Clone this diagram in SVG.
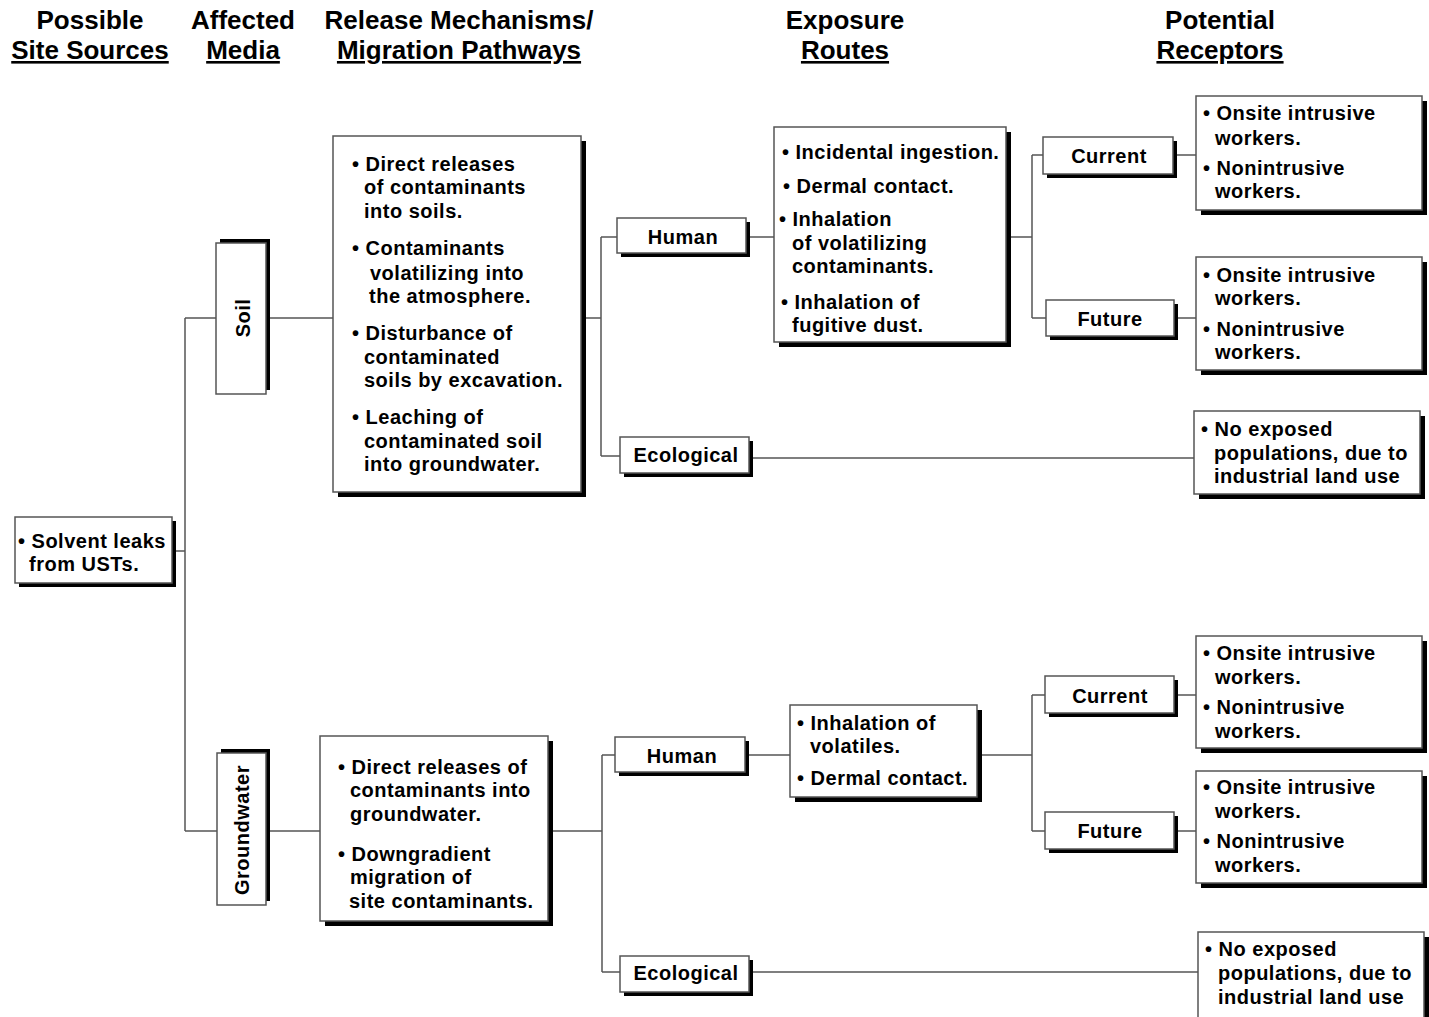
<svg xmlns="http://www.w3.org/2000/svg" width="1429" height="1017" viewBox="0 0 1429 1017">
<style>
.hd{font-family:"Liberation Sans",Arial,sans-serif;font-weight:bold;font-size:26px;text-anchor:middle;fill:#000}
.u{text-decoration:underline}
.t{font-family:"Liberation Sans",Arial,sans-serif;font-weight:bold;font-size:20px;letter-spacing:0.5px;fill:#000}
.c{text-anchor:middle}
.box{fill:#fff;stroke:#555;stroke-width:1.5}
.sh{fill:#000}
.ln{stroke:#555;stroke-width:1.5;fill:none}
</style>
<rect width="1429" height="1017" fill="#fff"/>
<g id="headers">
<text class="hd" x="90" y="29">Possible</text>
<text class="hd u" x="90" y="59">Site Sources</text>
<text class="hd" x="243" y="29">Affected</text>
<text class="hd u" x="243" y="59">Media</text>
<text class="hd" x="459" y="29">Release Mechanisms/</text>
<text class="hd u" x="459" y="59">Migration Pathways</text>
<text class="hd" x="845" y="29">Exposure</text>
<text class="hd u" x="845" y="59">Routes</text>
<text class="hd" x="1220" y="29">Potential</text>
<text class="hd u" x="1220" y="59">Receptors</text>
</g>
<g id="connectors" class="ln">
<path d="M172 551 H185 M185 318 V831 M185 318 H216 M185 831 H217"/>
<path d="M266 318 H333 M266 831 H320"/>
<path d="M581 318 H601 M601 237 V456 M601 237 H617 M601 456 H620"/>
<path d="M548 831 H602 M602 755 V972 M602 755 H615 M602 972 H620"/>
<path d="M746 237 H774 M745 755 H790"/>
<path d="M1006 237 H1032 M1032 155 V318 M1032 155 H1043 M1032 318 H1046"/>
<path d="M977 755 H1032 M1032 695 V831 M1032 695 H1045 M1032 831 H1045"/>
<path d="M1173 155 H1196 M1174 318 H1196 M1174 695 H1196 M1174 831 H1196"/>
<path d="M749 458 H1194 M749 972 H1198"/>
</g>
<g id="source">
<rect class="sh" x="19" y="521" width="157" height="66"/>
<rect class="box" x="15" y="517" width="157" height="66"/>
<text class="t"><tspan x="18" y="548">• Solvent leaks</tspan><tspan x="29" y="571">from USTs.</tspan></text>
</g>
<g id="soil">
<rect class="sh" x="220" y="239" width="50" height="151"/>
<rect class="box" x="216" y="243" width="50" height="151"/>
<text class="t c" transform="translate(250,318) rotate(-90)">Soil</text>
</g>
<g id="groundwater">
<rect class="sh" x="221" y="749" width="49" height="152"/>
<rect class="box" x="217" y="753" width="49" height="152"/>
<text class="t c" transform="translate(249,830) rotate(-90)">Groundwater</text>
</g>
<g id="soil-mechanisms">
<rect class="sh" x="338" y="141" width="248" height="356"/>
<rect class="box" x="333" y="136" width="248" height="356"/>
<text class="t">
<tspan x="352" y="171">• Direct releases</tspan>
<tspan x="364" y="194">of contaminants</tspan>
<tspan x="364" y="218">into soils.</tspan>
<tspan x="352" y="255">• Contaminants</tspan>
<tspan x="370" y="280">volatilizing into</tspan>
<tspan x="369" y="303">the atmosphere.</tspan>
<tspan x="352" y="340">• Disturbance of</tspan>
<tspan x="364" y="364">contaminated</tspan>
<tspan x="364" y="387">soils by excavation.</tspan>
<tspan x="352" y="424">• Leaching of</tspan>
<tspan x="364" y="448">contaminated soil</tspan>
<tspan x="364" y="471">into groundwater.</tspan>
</text>
</g>
<g id="gw-mechanisms">
<rect class="sh" x="325" y="741" width="228" height="185"/>
<rect class="box" x="320" y="736" width="228" height="185"/>
<text class="t">
<tspan x="338" y="774">• Direct releases of</tspan>
<tspan x="350" y="797">contaminants into</tspan>
<tspan x="350" y="821">groundwater.</tspan>
<tspan x="338" y="861">• Downgradient</tspan>
<tspan x="350" y="884">migration of</tspan>
<tspan x="349" y="908">site contaminants.</tspan>
</text>
</g>
<g id="human-soil">
<rect class="sh" x="621" y="222" width="129" height="35"/>
<rect class="box" x="617" y="218" width="129" height="35"/>
<text class="t c" x="683" y="244">Human</text>
</g>
<g id="eco-soil">
<rect class="sh" x="624" y="441" width="129" height="36"/>
<rect class="box" x="620" y="437" width="129" height="36"/>
<text class="t c" x="686" y="462">Ecological</text>
</g>
<g id="human-gw">
<rect class="sh" x="619" y="741" width="130" height="35"/>
<rect class="box" x="615" y="737" width="130" height="35"/>
<text class="t c" x="682" y="763">Human</text>
</g>
<g id="eco-gw">
<rect class="sh" x="624" y="960" width="129" height="36"/>
<rect class="box" x="620" y="956" width="129" height="36"/>
<text class="t c" x="686" y="980">Ecological</text>
</g>
<g id="exposure-soil">
<rect class="sh" x="779" y="132" width="232" height="215"/>
<rect class="box" x="774" y="127" width="232" height="215"/>
<text class="t">
<tspan x="782" y="159">• Incidental ingestion.</tspan>
<tspan x="783" y="193">• Dermal contact.</tspan>
<tspan x="779" y="226">• Inhalation</tspan>
<tspan x="792" y="250">of volatilizing</tspan>
<tspan x="792" y="273">contaminants.</tspan>
<tspan x="781" y="309">• Inhalation of</tspan>
<tspan x="792" y="332">fugitive dust.</tspan>
</text>
</g>
<g id="exposure-gw">
<rect class="sh" x="795" y="710" width="187" height="92"/>
<rect class="box" x="790" y="705" width="187" height="92"/>
<text class="t">
<tspan x="797" y="730">• Inhalation of</tspan>
<tspan x="810" y="753">volatiles.</tspan>
<tspan x="797" y="785">• Dermal contact.</tspan>
</text>
</g>
<g id="current-soil">
<rect class="sh" x="1047" y="141" width="130" height="37"/>
<rect class="box" x="1043" y="137" width="130" height="37"/>
<text class="t c" x="1109" y="163">Current</text>
</g>
<g id="future-soil">
<rect class="sh" x="1050" y="304" width="128" height="36"/>
<rect class="box" x="1046" y="300" width="128" height="36"/>
<text class="t c" x="1110" y="326">Future</text>
</g>
<g id="current-gw">
<rect class="sh" x="1049" y="680" width="129" height="37"/>
<rect class="box" x="1045" y="676" width="129" height="37"/>
<text class="t c" x="1110" y="703">Current</text>
</g>
<g id="future-gw">
<rect class="sh" x="1049" y="816" width="129" height="37"/>
<rect class="box" x="1045" y="812" width="129" height="37"/>
<text class="t c" x="1110" y="838">Future</text>
</g>
<g id="receptors-current-soil">
<rect class="sh" x="1201" y="101" width="226" height="114"/>
<rect class="box" x="1196" y="96" width="226" height="114"/>
<text class="t"><tspan x="1203" y="120">• Onsite intrusive</tspan><tspan x="1215" y="145">workers.</tspan><tspan x="1203" y="175">• Nonintrusive</tspan><tspan x="1215" y="198">workers.</tspan></text>
</g>
<g id="receptors-future-soil">
<rect class="sh" x="1201" y="262" width="226" height="113"/>
<rect class="box" x="1196" y="257" width="226" height="113"/>
<text class="t"><tspan x="1203" y="282">• Onsite intrusive</tspan><tspan x="1215" y="305">workers.</tspan><tspan x="1203" y="336">• Nonintrusive</tspan><tspan x="1215" y="359">workers.</tspan></text>
</g>
<g id="receptors-eco-soil">
<rect class="sh" x="1199" y="416" width="226" height="83"/>
<rect class="box" x="1194" y="411" width="226" height="83"/>
<text class="t"><tspan x="1201" y="436">• No exposed</tspan><tspan x="1214" y="460">populations, due to</tspan><tspan x="1214" y="483">industrial land use</tspan></text>
</g>
<g id="receptors-current-gw">
<rect class="sh" x="1201" y="641" width="226" height="112"/>
<rect class="box" x="1196" y="636" width="226" height="112"/>
<text class="t"><tspan x="1203" y="660">• Onsite intrusive</tspan><tspan x="1215" y="684">workers.</tspan><tspan x="1203" y="714">• Nonintrusive</tspan><tspan x="1215" y="738">workers.</tspan></text>
</g>
<g id="receptors-future-gw">
<rect class="sh" x="1201" y="776" width="226" height="112"/>
<rect class="box" x="1196" y="771" width="226" height="112"/>
<text class="t"><tspan x="1203" y="794">• Onsite intrusive</tspan><tspan x="1215" y="818">workers.</tspan><tspan x="1203" y="848">• Nonintrusive</tspan><tspan x="1215" y="872">workers.</tspan></text>
</g>
<g id="receptors-eco-gw">
<rect class="sh" x="1203" y="937" width="226" height="95"/>
<rect class="box" x="1198" y="932" width="226" height="95"/>
<text class="t"><tspan x="1205" y="956">• No exposed</tspan><tspan x="1218" y="980">populations, due to</tspan><tspan x="1218" y="1004">industrial land use</tspan></text>
</g>
</svg>
